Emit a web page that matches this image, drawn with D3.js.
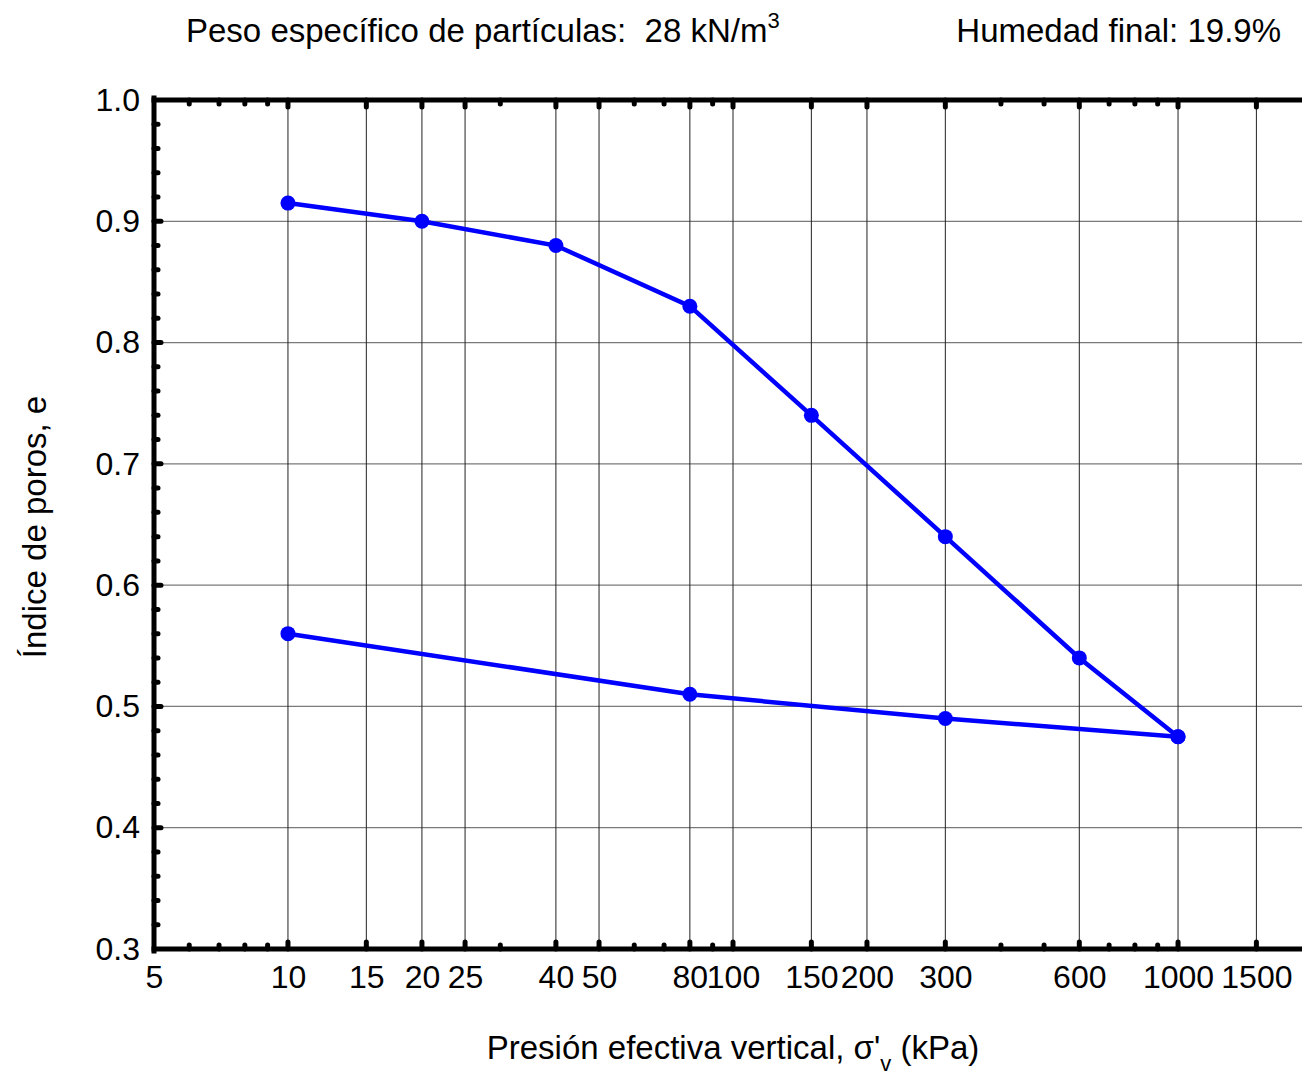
<!DOCTYPE html>
<html>
<head>
<meta charset="utf-8">
<script src="https://cdn.jsdelivr.net/npm/d3@7"></script>
<style>
  body { margin: 0; background: #fff; }
  svg { font-family: "Liberation Sans", Arial, sans-serif; }
</style>
</head>
<body>
<script>
// loading branch
var loadP = [10, 20, 40, 80, 150, 300, 600, 1000];
var loadE = [0.915, 0.900, 0.880, 0.830, 0.740, 0.640, 0.540, 0.475];
// unloading branch
var unloadP = [1000, 300, 80, 10];
var unloadE = [0.475, 0.490, 0.510, 0.560];

var xMajor = [5, 10, 15, 20, 25, 40, 50, 80, 100, 150, 200, 300, 600, 1000, 1500];
var xMinor = [6, 7, 8, 9, 30, 60, 70, 90, 400, 500, 700, 800, 900];
var yMajor = [0.3, 0.4, 0.5, 0.6, 0.7, 0.8, 0.9, 1.0];

var w = 1302, h = 1076;
var plotL = 154, plotT = 100, plotB = 949, plotR = 1312;

var svg = d3.select("body").append("svg")
    .attr("width", w)
    .attr("height", h);

var x = d3.scaleLog().domain([5, 2000]).range([plotL, plotR]);
var y = d3.scaleLinear().domain([0.3, 1.0]).range([plotB, plotT]);

// minor y ticks every 0.02
var yMinor = d3.range(16, 50).map(function(i){ return i * 0.02; })
    .filter(function(v){ return Math.abs(v * 10 - Math.round(v * 10)) > 0.001 && v < 1.0; });

var grid = svg.append("g").attr("class", "grid");

// horizontal grid
grid.selectAll(".hgrid")
    .data(yMajor.slice(1, -1))
    .enter()
    .append("line")
    .attr("class", "hgrid")
    .attr("x1", plotL).attr("x2", w)
    .attr("y1", function(d){ return y(d); })
    .attr("y2", function(d){ return y(d); })
    .style("stroke", "#7a7a7a")
    .style("stroke-width", 1.3);

// vertical grid
grid.selectAll(".vgrid")
    .data(xMajor.slice(1))
    .enter()
    .append("line")
    .attr("class", "vgrid")
    .attr("x1", function(d){ return x(d); })
    .attr("x2", function(d){ return x(d); })
    .attr("y1", plotT).attr("y2", plotB)
    .style("stroke", "#222")
    .style("stroke-width", 1);

// frame
var frame = svg.append("g").attr("class", "frame");
frame.append("line").attr("x1", plotL).attr("x2", w + 5).attr("y1", plotT).attr("y2", plotT);
frame.append("line").attr("x1", plotL).attr("x2", w + 5).attr("y1", plotB).attr("y2", plotB);
frame.append("line").attr("x1", plotL).attr("x2", plotL).attr("y1", plotT - 2).attr("y2", plotB + 2);
frame.selectAll("line")
    .style("stroke", "#000")
    .style("stroke-width", 5)
    .style("stroke-linecap", "square");

// tick bumps (round caps)
function bumps(sel, data, len, width, horizontal, pos, dir){
    sel.selectAll(null)
        .data(data)
        .enter()
        .append("line")
        .attr("x1", function(d){ return horizontal ? x(d) : pos; })
        .attr("x2", function(d){ return horizontal ? x(d) : pos + dir * len; })
        .attr("y1", function(d){ return horizontal ? pos : y(d); })
        .attr("y2", function(d){ return horizontal ? pos + dir * len : y(d); })
        .style("stroke", "#000")
        .style("stroke-width", width)
        .style("stroke-linecap", "round");
}
var tk = svg.append("g").attr("class", "ticks");
bumps(tk, xMinor, 4, 5, true, plotB, -1);
bumps(tk, xMinor, 4, 5, true, plotT, 1);
bumps(tk, xMajor.slice(1), 7, 5, true, plotB, -1);
bumps(tk, xMajor.slice(1), 7, 5, true, plotT, 1);
bumps(tk, yMinor, 4, 5, false, plotL, 1);
bumps(tk, yMajor.slice(1, -1), 7, 5, false, plotL, 1);

// axes labels via d3 axis
var xAxis = d3.axisBottom(x).tickValues(xMajor).tickFormat(d3.format("d")).tickSize(0).tickPadding(16);
svg.append("g")
    .attr("class", "axis")
    .attr("transform", "translate(0," + plotB + ")")
    .call(xAxis)
    .call(function(g){ g.select(".domain").remove(); })
    .selectAll("text")
    .style("font-size", "32px")
    .style("fill", "#000")
    .style("font-family", "'Liberation Sans', Arial, sans-serif");

var yAxis = d3.axisLeft(y).tickValues(yMajor).tickFormat(d3.format(".1f")).tickSize(0).tickPadding(14);
svg.append("g")
    .attr("class", "axis")
    .attr("transform", "translate(" + plotL + ",0)")
    .call(yAxis)
    .call(function(g){ g.select(".domain").remove(); })
    .selectAll("text")
    .style("font-size", "32px")
    .style("fill", "#000")
    .style("font-family", "'Liberation Sans', Arial, sans-serif");

// series
var line = d3.line()
    .x(function(d){ return x(d[0]); })
    .y(function(d){ return y(d[1]); });

var loadData = d3.zip(loadP, loadE);
var unloadData = d3.zip(unloadP, unloadE);

[loadData, unloadData].forEach(function(data){
    svg.append("path")
        .datum(data)
        .attr("d", line)
        .style("fill", "none")
        .style("stroke", "#0000ff")
        .style("stroke-width", 4.5);
    svg.append("g").selectAll("circle")
        .data(data)
        .enter()
        .append("circle")
        .attr("cx", function(d){ return x(d[0]); })
        .attr("cy", function(d){ return y(d[1]); })
        .attr("r", 7.5)
        .style("fill", "#0000ff");
});

// titles
var t1 = svg.append("text")
    .attr("x", 186).attr("y", 42)
    .style("font-size", "33px");
t1.append("tspan").text("Peso específico de partículas:\u00a0 28 kN/m");
t1.append("tspan").attr("dy", -14).style("font-size", "22px").text("3");

svg.append("text")
    .attr("x", 1281).attr("y", 42)
    .attr("text-anchor", "end")
    .style("font-size", "33px")
    .text("Humedad final: 19.9%");

var xt = svg.append("text")
    .attr("x", 733).attr("y", 1059)
    .attr("text-anchor", "middle")
    .style("font-size", "33px");
xt.append("tspan").text("Presión efectiva vertical, σ'");
xt.append("tspan").attr("dy", 12).style("font-size", "22px").text("v");
xt.append("tspan").attr("dy", -12).text(" (kPa)");

svg.append("text")
    .attr("transform", "translate(46,527) rotate(-90)")
    .attr("text-anchor", "middle")
    .style("font-size", "33px")
    .text("Índice de poros, e");
</script>
</body>
</html>
